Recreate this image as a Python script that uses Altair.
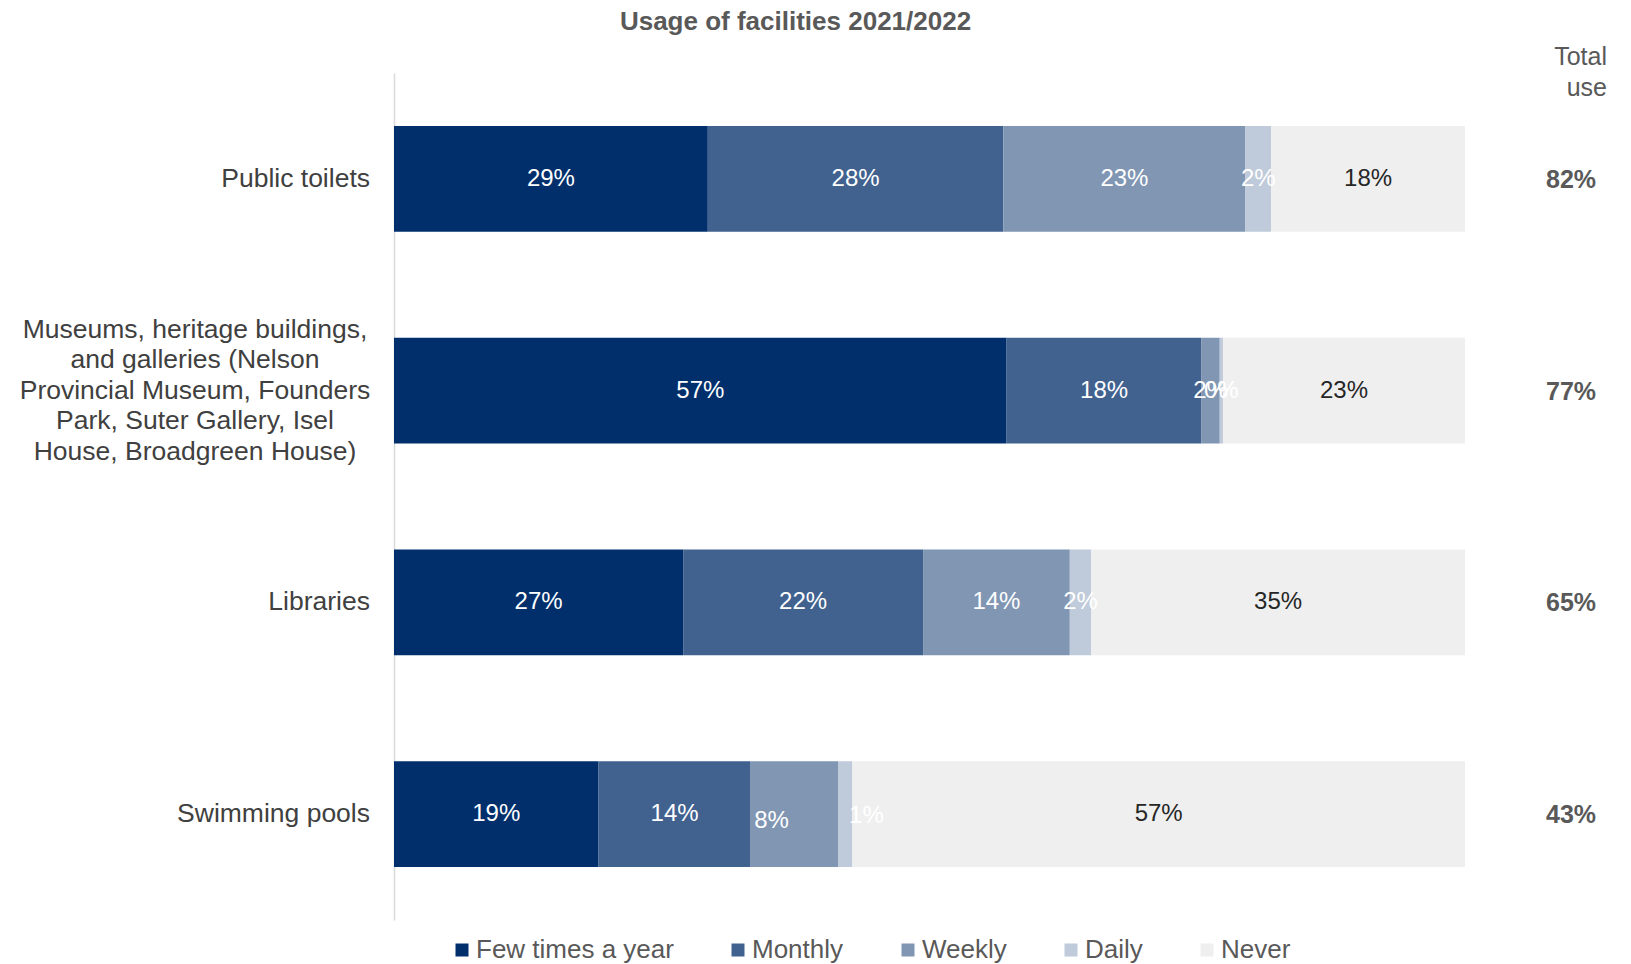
import altair as alt
import pandas as pd

FONT = "Liberation Sans"

facilities = [
    "Public toilets",
    "Museums, heritage buildings,\nand galleries (Nelson\nProvincial Museum, Founders\nPark, Suter Gallery, Isel\nHouse, Broadgreen House)",
    "Libraries",
    "Swimming pools",
]
frequencies = ["Few times a year", "Monthly", "Weekly", "Daily", "Never"]
few_times = [29.3, 57.2, 27.0, 19.1]
monthly = [27.6, 18.2, 22.4, 14.2]
weekly = [22.6, 1.7, 13.7, 8.2]
daily = [2.4, 0.3, 2.0, 1.3]
never = [18.1, 22.6, 34.9, 57.2]
total_use = [82, 77, 65, 43]
colors = ["#002F6C", "#41628F", "#8096B3", "#BFCADA", "#EFEFEF"]

series = [few_times, monthly, weekly, daily, never]
rows = []
for i, fac in enumerate(facilities):
    start = 0.0
    for j, freq in enumerate(frequencies):
        v = series[j][i]
        rows.append({
            "facility": fac, "freq": freq, "order": j, "value": v,
            "start": start, "end": start + v, "mid": start + v / 2,
            "label": f"{v:.0f}%",
        })
        start += v
df = pd.DataFrame(rows)
cat_df = pd.DataFrame({"facility": facilities,
                       "total": [f"{t}%" for t in total_use]})
header_df = pd.DataFrame({"t": ["Total\nuse"]})

x_scale = alt.Scale(domain=[0, 100], nice=False, zero=True)
y_scale = alt.Scale(domain=facilities, paddingInner=0.5, paddingOuter=0.25)
Y = alt.Y("facility:N", scale=y_scale, sort=facilities,
          axis=alt.Axis(labels=False, ticks=False, title=None, grid=False,
                        domain=True, domainColor="#D9D9D9", domainWidth=1.5))
Y2 = alt.Y("facility:N", scale=y_scale, sort=facilities)

bars = alt.Chart(df).mark_bar().encode(
    x=alt.X("start:Q", scale=x_scale, axis=None),
    x2="end:Q",
    y=Y,
    color=alt.Color("freq:N", scale=alt.Scale(domain=frequencies, range=colors),
                    legend=alt.Legend(title=None, orient="none", direction="horizontal",
                                      columns=5, legendX=55, legendY=864,
                                      symbolType="square", symbolSize=169,
                                      symbolStrokeWidth=0, labelFontSize=26,
                                      labelFont=FONT, labelColor="#595959",
                                      labelOffset=1, columnPadding=51, padding=0,
                                      labelLimit=400)),
    order=alt.Order("order:Q"),
)

pool = facilities[3]
is_shifted = (alt.datum.facility == pool) & ((alt.datum.freq == "Weekly") | (alt.datum.freq == "Daily"))

bar_labels = alt.Chart(df).transform_filter(~is_shifted).mark_text(
    fontSize=24, font=FONT, baseline="middle").encode(
    x=alt.X("mid:Q", scale=x_scale),
    y=Y2,
    text="label:N",
    color=alt.condition(alt.datum.freq == "Never", alt.value("#262626"), alt.value("#FFFFFF")),
)

pool_weekly = alt.Chart(df).transform_filter(
    (alt.datum.facility == pool) & (alt.datum.freq == "Weekly")).mark_text(
    fontSize=24, font=FONT, baseline="middle", color="#FFFFFF", dx=-23, dy=7).encode(
    x=alt.X("mid:Q", scale=x_scale), y=Y2, text="label:N")

pool_daily = alt.Chart(df).transform_filter(
    (alt.datum.facility == pool) & (alt.datum.freq == "Daily")).mark_text(
    fontSize=24, font=FONT, baseline="middle", color="#FFFFFF", dx=21, dy=2).encode(
    x=alt.X("mid:Q", scale=x_scale), y=Y2, text="label:N")

museum = facilities[1]
ylab_right = alt.Chart(cat_df).transform_filter(alt.datum.facility != museum).mark_text(
    align="right", baseline="middle", fontSize=26.5, font=FONT, color="#404040"
).encode(y=Y2, x=alt.value(-24), text="facility:N")

ylab_center = alt.Chart(cat_df).transform_filter(alt.datum.facility == museum).mark_text(
    align="center", baseline="middle", fontSize=26.5, font=FONT, color="#404040",
    lineBreak="\n", lineHeight=30.5, dy=-61
).encode(y=Y2, x=alt.value(-199), text="facility:N")

totals = alt.Chart(cat_df).mark_text(
    align="center", baseline="middle", fontSize=25, font=FONT, fontWeight="bold",
    color="#595959", dy=1
).encode(y=Y2, x=alt.value(1177), text="total:N")

header = alt.Chart(header_df).mark_text(
    align="right", baseline="middle", fontSize=25, font=FONT, color="#595959",
    lineBreak="\n", lineHeight=31
).encode(x=alt.value(1213), y=alt.value(-16), text="t:N")

chart = alt.layer(bars, bar_labels, pool_weekly, pool_daily, ylab_right, ylab_center,
                  totals, header).properties(
    width=1071,
    height=847,
    autosize=alt.AutoSizeParams(type="none"),
    padding={"left": 394, "top": 73, "right": 166, "bottom": 44},
    title=alt.TitleParams("Usage of facilities 2021/2022", anchor="middle", frame="group",
                          dx=-134, dy=16, fontSize=26, font=FONT, fontWeight="bold",
                          color="#595959", baseline="alphabetic", offset=5),
).configure(font=FONT).configure_view(strokeWidth=0, stroke="transparent")

chart.save("out.html", embed_options={"renderer": "svg", "actions": False})
